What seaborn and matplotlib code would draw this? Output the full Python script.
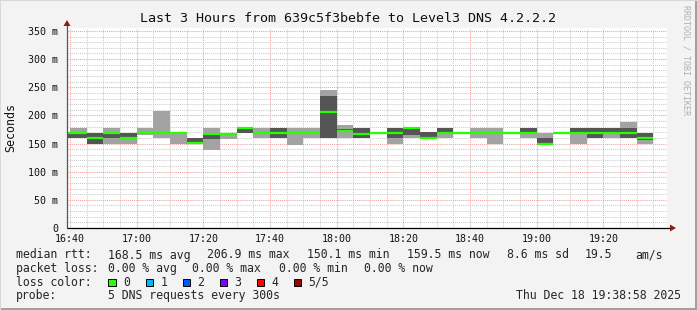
import numpy as np
import pandas as pd
import matplotlib
matplotlib.use("Agg")
import matplotlib.pyplot as plt
from matplotlib.patches import Rectangle, Polygon
from matplotlib.lines import Line2D
from matplotlib.ticker import MultipleLocator
import seaborn as sns

# ---------------- data ----------------
block_start = ["16:35", "16:40", "16:45", "16:50", "16:55", "17:00", "17:05", "17:10",
               "17:15", "17:20", "17:25", "17:30", "17:35", "17:40", "17:45", "17:50",
               "17:55", "18:00", "18:05", "18:10", "18:15", "18:20", "18:25", "18:30",
               "18:35", "18:40", "18:45", "18:50", "18:55", "19:00", "19:05", "19:10",
               "19:15", "19:20", "19:25", "19:30"]
# sorted pings per 5-minute step (ms)
ping_min = [160, 159, 149, 149, 149, 165, 160, 149, 150, 139, 158, 168, 159, 159, 148, 159,
            160, 159, 159, 166.5, 149, 159, 158, 159, 166.5, 159, 149, 166.5, 159, 150,
            166.5, 149, 159, 159, 159, 149]
ping_q1 = [160, 160, 149, 159, 158, 167, 167, 167, 150, 158, 166, 168, 167, 159, 167, 167,
           160, 171, 159, 167, 159, 166, 158, 167, 167, 167, 167, 167, 167, 150,
           167, 167, 159, 167, 159, 157]
median_rtt = [168, 168, 159, 168, 160, 168, 168, 168, 150.5, 167, 167.5, 177.5, 168, 168, 168, 168,
              206.9, 171.5, 167, 168, 168, 178.5, 159, 168, 168, 168, 168, 168, 168, 150.1,
              168, 168, 168, 168, 168, 159.5]
ping_q3 = [168, 169, 168, 169, 168, 169, 169, 169, 159, 168, 169, 178, 169, 178, 169, 169,
           235, 175, 178, 169, 178, 178.5, 170, 178, 169, 169, 169, 169, 178, 159,
           169, 178, 178, 178, 178, 169]
ping_max = [168, 178, 168, 178, 168, 178, 207, 169, 159, 178, 169, 178, 178, 178, 178, 178,
            246, 183, 178, 169.5, 178, 179, 170, 178, 169.5, 178, 178, 169.5, 178, 169,
            169.5, 178, 178, 178, 189, 169]

x_tick_labels = ["16:40", "17:00", "17:20", "17:40", "18:00", "18:20", "18:40", "19:00", "19:20"]
y_ticks = [0, 50, 100, 150, 200, 250, 300, 350]
y_tick_labels = ["0", "50 m", "100 m", "150 m", "200 m", "250 m", "300 m", "350 m"]

title = "Last 3 Hours from 639c5f3bebfe to Level3 DNS 4.2.2.2"
loss_labels = ["0", "1", "2", "3", "4", "5/5"]
loss_colors = ["#26ff00", "#00b8ff", "#0059ff", "#7e00ff", "#ff0000", "#a10000"]
stats_rtt = ["168.5 ms avg", "206.9 ms max", "150.1 ms min", "159.5 ms now", "8.6 ms sd", "19.5", "am/s"]
stats_loss = ["0.00 % avg", "0.00 % max", "0.00 % min", "0.00 % now"]
probe_text = "5 DNS requests every 300s"
stamp = "Thu Dec 18 19:38:58 2025"

# ---------------- style ----------------
sns.set_style("white")
plt.rcParams["font.family"] = ["DejaVu Sans Mono"]
MONO = "DejaVu Sans Mono"

W, H = 697, 310
fig = plt.figure(figsize=(W / 100, H / 100), dpi=100, facecolor="#f3f3f3")
ax = fig.add_axes([67 / W, 1 - 228 / H, 600 / W, 200 / H])
ax.set_facecolor("white")


def P(x, y):
    return (x / W, 1 - y / H)


def to_min(s):
    h, m = s.split(":")
    return int(h) * 60 + int(m) - (16 * 60 + 40)


t0 = np.array([to_min(s) for s in block_start], float)
edges = np.append(t0, t0[-1] + 5)


def ext(a):
    a = np.asarray(a, float)
    return np.append(a, a[-1])


# smoke: outer pair light, inner pair dark
ax.fill_between(edges, ext(ping_min), ext(ping_max), step="post", color="#a3a3a3",
                lw=0, antialiased=False, zorder=2)
ax.fill_between(edges, ext(ping_q1), ext(ping_q3), step="post", color="#555555",
                lw=0, antialiased=False, zorder=3)

# median line segments (seaborn)
n = len(t0)
seg = pd.DataFrame({
    "t": np.concatenate([t0, t0 + 5]),
    "rtt": np.concatenate([median_rtt, median_rtt]),
    "block": np.concatenate([np.arange(n), np.arange(n)]),
})
sns.lineplot(data=seg, x="t", y="rtt", units="block", estimator=None, color="#26ff00",
             lw=1.6, solid_capstyle="butt", ax=ax, legend=False, zorder=4)

ax.set_xlim(-0.9, 179.1)
ax.set_ylim(0, 355.3)
ax.set_xticks([to_min(s) for s in x_tick_labels])
ax.set_xticklabels(x_tick_labels)
ax.xaxis.set_minor_locator(MultipleLocator(5))
ax.set_yticks(y_ticks)
ax.set_yticklabels(y_tick_labels)
ax.yaxis.set_minor_locator(MultipleLocator(10))
ax.set_xlabel("")
ax.set_ylabel("")

ax.set_axisbelow(True)
ax.grid(which="minor", color="#cccccc", ls=(0, (1, 1)), lw=0.75)
ax.grid(which="major", color="#f0a0a0", ls=(0, (1, 1)), lw=0.75)
for s in ax.spines.values():
    s.set_visible(False)

ax.tick_params(axis="x", which="major", direction="out", length=2.2, width=0.72,
               color="#d08080", pad=2.0, labelsize=7.2, labelcolor="#111111")
ax.tick_params(axis="x", which="minor", direction="out", length=1.4, width=0.72,
               color="#aaaaaa")
ax.tick_params(axis="y", which="major", direction="inout", length=4.3, width=0.72,
               color="#777777", pad=4.3, labelsize=7.2, labelcolor="#111111")
ax.tick_params(axis="y", which="minor", direction="inout", length=2.8, width=0.72,
               color="#999999")

# axes lines and arrows
fig.add_artist(Line2D([P(67, 228)[0], P(671, 228)[0]], [P(67, 228)[1], P(671, 228)[1]],
                      color="black", lw=0.9, zorder=5))
fig.add_artist(Line2D([P(67, 228)[0], P(67, 25)[0]], [P(67, 228)[1], P(67, 25)[1]],
                      color="#555555", lw=0.9, zorder=5))
fig.add_artist(Polygon([P(670, 224.5), P(670, 231.5), P(676, 228)], closed=True,
                       color="#8b1c1c", lw=0, zorder=6))
fig.add_artist(Polygon([P(63.5, 26), P(70.5, 26), P(67, 20)], closed=True,
                       color="#8b1c1c", lw=0, zorder=6))

# title / labels
fig.text(*P(348.5, 19), title, ha="center", va="center", fontsize=9.6, family=MONO, color="#111111")
fig.text(*P(11, 128), "Seconds", ha="center", va="center", rotation=90, fontsize=8.4,
         family=MONO, color="#111111")
fig.text(*P(686, 60), "RRDTOOL / TOBI OETIKER", ha="center", va="center", rotation=270,
         fontsize=6, family=MONO, color="#b0b0b0")

LF = 8.3
rows_y = [255, 268.5, 282.3, 295.8]
fig.text(*P(16, rows_y[0]), "median rtt:", ha="left", va="center", fontsize=LF, family=MONO)
for xx, s in zip([107.6, 207, 306.7, 407, 507, 585, 635.6], stats_rtt):
    fig.text(*P(xx, rows_y[0]), s, ha="left", va="center", fontsize=LF, family=MONO)
fig.text(*P(16, rows_y[1]), "packet loss:", ha="left", va="center", fontsize=LF, family=MONO)
for xx, s in zip([107.6, 192.4, 279, 364.4], stats_loss):
    fig.text(*P(xx, rows_y[1]), s, ha="left", va="center", fontsize=LF, family=MONO)
fig.text(*P(16, rows_y[2]), "loss color:", ha="left", va="center", fontsize=LF, family=MONO)
for bx, lbl, col in zip([108, 145.5, 182.5, 219.5, 256.5, 293.5], loss_labels, loss_colors):
    x0, y0 = P(bx, rows_y[2] + 3.8)
    fig.add_artist(Rectangle((x0, y0), 7.6 / W, 7.6 / H, transform=fig.transFigure,
                             facecolor=col, edgecolor="black", lw=0.7))
    fig.text(*P(bx + 15, rows_y[2]), lbl, ha="left", va="center", fontsize=LF, family=MONO)
fig.text(*P(16, rows_y[3]), "probe:", ha="left", va="center", fontsize=LF, family=MONO)
fig.text(*P(107.6, rows_y[3]), probe_text, ha="left", va="center", fontsize=LF, family=MONO)
fig.text(*P(680.5, rows_y[3]), stamp, ha="right", va="center", fontsize=LF, family=MONO)

# 3D frame
fig.add_artist(Rectangle((0, 0), 1, 2 / H, transform=fig.transFigure, color="#a0a0a0", lw=0))
fig.add_artist(Rectangle((1 - 2 / W, 0), 2 / W, 1, transform=fig.transFigure, color="#a0a0a0", lw=0))
fig.add_artist(Rectangle((0, 1 - 1 / H), 1, 1 / H, transform=fig.transFigure, color="#d8d8d8", lw=0))
fig.add_artist(Rectangle((0, 0), 1 / W, 1, transform=fig.transFigure, color="#d8d8d8", lw=0))

fig.savefig("out.png", dpi=100, facecolor=fig.get_facecolor())
